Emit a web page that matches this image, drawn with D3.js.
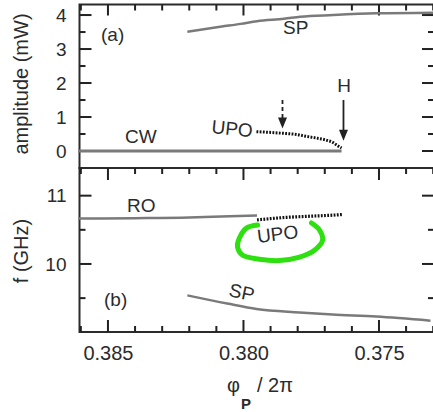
<!DOCTYPE html>
<html lang="en">
	<head>
		<meta charset="utf-8">
		<title>Bifurcation diagram</title>
		<script type="text/javascript" src="https://cdn.jsdelivr.net/npm/d3@7"></script>
		<style type="text/css">
			body { margin: 0; background: #fff; }
			text { font-family: Arial, "Liberation Sans", sans-serif; fill: #2b2b2b; }
		</style>
	</head>
	<body>
		<script type="text/javascript">

			//Width and height
			var w = 433;
			var h = 412;

			//Tick values
			var xMajor = [0.385, 0.380, 0.375];
			var xMinor = [0.386, 0.384, 0.383, 0.382, 0.381, 0.379, 0.378, 0.377, 0.376, 0.374, 0.373];
			var ampMajor = [0, 1, 2, 3, 4];
			var ampMinor = [0.5, 1.5, 2.5, 3.5];
			var freqMajor = [10, 11];
			var freqMinor = [9.5, 10.5];

			//Panel (a): amplitude in mW
			var cwLine = [[0.3861, 0], [0.3800, 0], [0.37638, 0]];
			var spTop = [[0.38207, 3.51], [0.3808, 3.66], [0.3801, 3.74], [0.3795, 3.82], [0.3785, 3.89],
						 [0.3779, 3.95], [0.3767, 4.0], [0.3751, 4.05], [0.3730, 4.07]];
			var upoTop = [[0.37952, 0.57], [0.3787, 0.53], [0.3780, 0.48], [0.37768, 0.43], [0.3773, 0.38],
						  [0.37694, 0.32], [0.3767, 0.25], [0.37657, 0.18], [0.37638, 0.09]];

			//Panel (b): frequency in GHz
			var roLine = [[0.3861, 10.665], [0.384, 10.67], [0.382, 10.68], [0.3805, 10.70], [0.3795, 10.71]];
			var upoBottom = [[0.3795, 10.645], [0.3785, 10.68], [0.3775, 10.70], [0.3765, 10.72], [0.37635, 10.725]];
			var spBottom = [[0.38207, 9.54], [0.3806, 9.42], [0.37952, 9.34], [0.37793, 9.29], [0.37672, 9.26],
							[0.3751, 9.23], [0.3731, 9.17]];

			//Hand drawn green loop round the UPO label
			var greenLoop = [[0.37948, 10.57], [0.37989, 10.525], [0.38015, 10.38], [0.38022, 10.25], [0.38004, 10.13],
							 [0.37941, 10.07], [0.37867, 10.05], [0.37793, 10.10], [0.37738, 10.20], [0.37708, 10.35],
							 [0.37720, 10.50], [0.37749, 10.60]];

			//Arrows in panel (a): [x, from, to]
			var dashArrow = [0.37856, 1.5, 0.66];
			var hArrow = [0.37631, 1.5, 0.3];

			//Scales
			var xScale = d3.scaleLinear().domain([0.38605, 0.37297]).range([79.5, 434]);
			var yA = d3.scaleLinear().domain([-0.5, 4.31]).range([168, 4.5]);
			var yB = d3.scaleLinear().domain([9.004, 11.405]).range([332, 168]);

			var svg = d3.select("body")
						.append("svg")
						.attr("width", w)
						.attr("height", h);

			var lineA = d3.line()
						  .x(function(d) { return xScale(d[0]); })
						  .y(function(d) { return yA(d[1]); })
						  .curve(d3.curveMonotoneX);
			var lineB = d3.line()
						  .x(function(d) { return xScale(d[0]); })
						  .y(function(d) { return yB(d[1]); })
						  .curve(d3.curveMonotoneX);

			var xr = xScale.range();
			var fmtInt = d3.format("d");
			var fmtX = d3.format(".3f");

			//Tick labels through d3 axes (tick marks drawn separately, pointing inward)
			function axisLabels(axisFn, scale, values, pos, fmt, cls) {
				var g = svg.append("g")
						   .attr("class", cls)
						   .attr("transform", pos)
						   .call(axisFn(scale).tickValues(values).tickSize(0).tickPadding(13).tickFormat(fmt));
				g.select(".domain").remove();
				g.selectAll("line").remove();
				g.selectAll("text").attr("font-family", null).attr("fill", "#2b2b2b");
				return g;
			}
			axisLabels(d3.axisLeft, yA, ampMajor, "translate(" + xr[0] + ",0)", fmtInt, "ya")
				.selectAll("text").attr("font-size", "19px");
			axisLabels(d3.axisLeft, yB, freqMajor, "translate(" + xr[0] + ",0)", fmtInt, "yb")
				.selectAll("text").attr("font-size", "19px");
			axisLabels(d3.axisBottom, xScale, xMajor, "translate(0," + yB.range()[0] + ")", fmtX, "xb")
				.selectAll("text").attr("font-size", "20px").attr("y", 14);

			//Frames
			svg.append("rect")
			   .attr("x", xr[0]).attr("y", yA.range()[1])
			   .attr("width", xr[1] - xr[0]).attr("height", yA.range()[0] - yA.range()[1])
			   .attr("fill", "none").attr("stroke", "#2b2b2b").attr("stroke-width", 2);
			svg.append("rect")
			   .attr("x", xr[0]).attr("y", yB.range()[1])
			   .attr("width", xr[1] - xr[0]).attr("height", yB.range()[0] - yB.range()[1])
			   .attr("fill", "none").attr("stroke", "#2b2b2b").attr("stroke-width", 2);

			//Tick marks as small filled rects, pointing into the panels
			function xTicks(values, yEdge, len) {
				svg.append("g").selectAll("rect")
				   .data(values)
				   .enter()
				   .append("rect")
				   .attr("x", function(d) { return xScale(d) - 1; })
				   .attr("y", len > 0 ? yEdge : yEdge + len)
				   .attr("width", 2)
				   .attr("height", Math.abs(len))
				   .attr("fill", "#222");
			}
			function yTicks(scale, values, xEdge, len) {
				svg.append("g").selectAll("rect")
				   .data(values)
				   .enter()
				   .append("rect")
				   .attr("x", len > 0 ? xEdge : xEdge + len)
				   .attr("y", function(d) { return scale(d) - 1; })
				   .attr("width", Math.abs(len))
				   .attr("height", 2)
				   .attr("fill", "#222");
			}
			yTicks(yA, ampMajor, xr[0], 12);
			yTicks(yA, ampMinor, xr[0], 6);
			yTicks(yA, ampMajor, xr[1], -12);
			yTicks(yA, ampMinor, xr[1], -6);
			yTicks(yB, freqMajor, xr[0], 12);
			yTicks(yB, freqMinor, xr[0], 6);
			yTicks(yB, freqMajor, xr[1], -12);
			yTicks(yB, freqMinor, xr[1], -6);
			xTicks(xMajor, yA.range()[1], 11);
			xTicks(xMinor, yA.range()[1], 6);
			xTicks(xMajor, yB.range()[1], 12);
			xTicks(xMinor, yB.range()[1], 6);
			xTicks(xMajor, yB.range()[0], -12);
			xTicks(xMinor, yB.range()[0], -6);

			//Panel (a) curves
			svg.append("path").attr("d", lineA(cwLine))
			   .attr("fill", "none").attr("stroke", "#7a7a7a").attr("stroke-width", 3);
			svg.append("path").attr("d", lineA(spTop))
			   .attr("fill", "none").attr("stroke", "#7a7a7a").attr("stroke-width", 2.5);
			svg.append("path").attr("d", lineA(upoTop))
			   .attr("fill", "none").attr("stroke", "#111").attr("stroke-width", 3)
			   .attr("stroke-dasharray", "1.8,1.4");

			//Panel (b) curves
			svg.append("path").attr("d", lineB(roLine))
			   .attr("fill", "none").attr("stroke", "#7a7a7a").attr("stroke-width", 2.5);
			svg.append("path").attr("d", lineB(upoBottom))
			   .attr("fill", "none").attr("stroke", "#111").attr("stroke-width", 3.2)
			   .attr("stroke-dasharray", "1.8,1.4");
			svg.append("path").attr("d", lineB(spBottom))
			   .attr("fill", "none").attr("stroke", "#7a7a7a").attr("stroke-width", 2.5);

			//Green loop
			svg.append("path")
			   .attr("d", d3.line()
							.x(function(d) { return xScale(d[0]); })
							.y(function(d) { return yB(d[1]); })
							.curve(d3.curveCatmullRom)(greenLoop))
			   .attr("fill", "none").attr("stroke", "#2ee010").attr("stroke-width", 5)
			   .attr("stroke-linecap", "round");

			//Arrows
			function arrow(a, dashed) {
				var x = xScale(a[0]), y1 = yA(a[1]), y2 = yA(a[2]);
				svg.append("line")
				   .attr("x1", x).attr("x2", x)
				   .attr("y1", y1).attr("y2", y2 - 9)
				   .attr("stroke", "#222").attr("stroke-width", 1.8)
				   .attr("stroke-dasharray", dashed ? "4,3" : null);
				svg.append("path")
				   .attr("d", "M" + (x - 4.5) + "," + (y2 - 11) + "L" + (x + 4.5) + "," + (y2 - 11) + "L" + x + "," + y2 + "Z")
				   .attr("fill", "#222");
			}
			arrow(dashArrow, true);
			arrow(hArrow, false);

			//Annotations
			function label(txt, x, y, opts) {
				opts = opts || {};
				var t = svg.append("text")
						   .attr("x", x).attr("y", y)
						   .attr("font-size", opts.size || "19px")
						   .attr("text-anchor", opts.anchor || "start")
						   .text(txt);
				if (opts.rotate) t.attr("transform", "rotate(" + opts.rotate + "," + x + "," + y + ")");
				return t;
			}
			label("(a)", 101, 41);
			label("SP", 283, 34);
			label("H", 344, 92, {anchor: "middle"});
			label("UPO", 211, 133, {rotate: 6});
			label("CW", 125, 143);
			label("RO", 127, 212);
			label("UPO", 258, 243, {rotate: -7});
			label("(b)", 104, 306);
			label("SP", 228, 296, {rotate: 12});

			//Axis titles
			svg.append("text")
			   .attr("transform", "translate(28,84) rotate(-90)")
			   .attr("text-anchor", "middle")
			   .attr("font-size", "20px")
			   .text("amplitude (mW)");
			svg.append("text")
			   .attr("transform", "translate(28,251) rotate(-90)")
			   .attr("text-anchor", "middle")
			   .attr("font-size", "20px")
			   .text("f (GHz)");

			var xt = svg.append("text")
						.attr("x", 227).attr("y", 392)
						.attr("font-size", "20px");
			xt.append("tspan").text("φ");
			xt.append("tspan").attr("font-size", "15px").attr("font-weight", "bold")
			  .attr("dy", 17).attr("dx", 1).text("P");
			xt.append("tspan").attr("dy", -17).attr("dx", 6).text("/ 2π");

		</script>
	</body>
</html>
